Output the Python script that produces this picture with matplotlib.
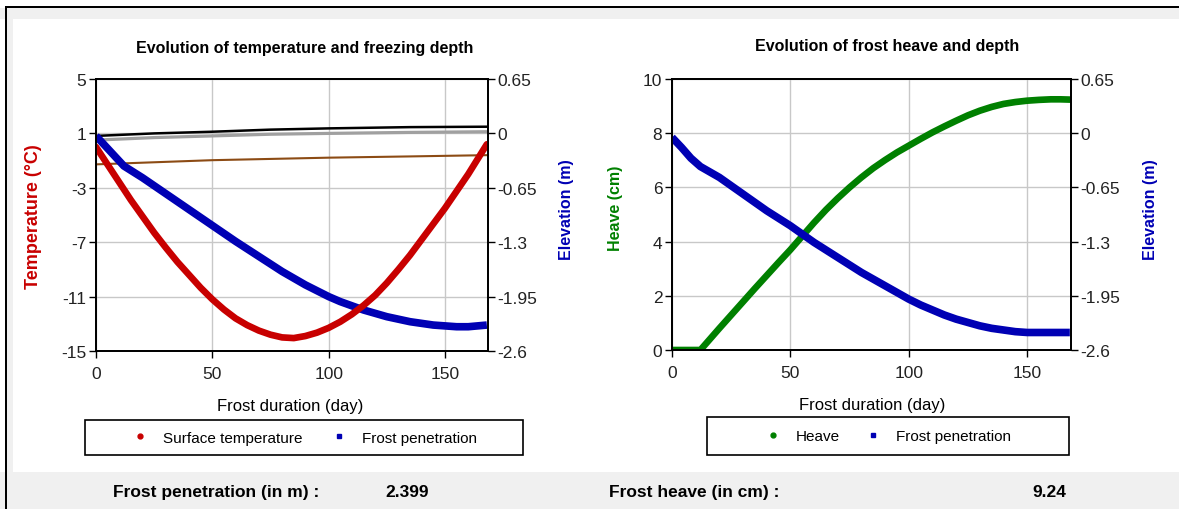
import matplotlib.pyplot as plt
from matplotlib.patches import Rectangle
from matplotlib.lines import Line2D

plt.rcParams['font.family'] = ['Liberation Sans', 'DejaVu Sans']
plt.rcParams['axes.unicode_minus'] = False

# ---- data ----
# left chart: surface temperature (deg C) and frost penetration (elevation m)
temp_days = [0, 5, 10, 15, 20, 25, 30, 35, 40, 45, 50, 55, 60, 65, 70, 75, 80, 85,
             90, 95, 100, 105, 110, 115, 120, 125, 130, 135, 140, 145, 150, 155, 160,
             164, 168]
surface_temp = [0.0, -1.3, -2.6, -3.9, -5.1, -6.3, -7.4, -8.45, -9.4, -10.35, -11.2,
                -11.95, -12.6, -13.1, -13.5, -13.8, -14.0, -14.05, -13.9, -13.65,
                -13.3, -12.85, -12.3, -11.65, -10.9, -10.0, -9.0, -7.95, -6.8, -5.65,
                -4.5, -3.25, -2.0, -0.9, 0.2]

pen_days = [0, 4, 8, 12, 20, 30, 40, 50, 60, 70, 80, 90, 95, 100, 105, 110, 115, 120,
            125, 130, 135, 140, 145, 150, 155, 160, 164, 168]
frost_pen_left = [-0.03, -0.15, -0.27, -0.39, -0.53, -0.72, -0.91, -1.10, -1.29, -1.47,
                  -1.65, -1.81, -1.88, -1.95, -2.01, -2.06, -2.11, -2.15, -2.19, -2.22,
                  -2.25, -2.27, -2.29, -2.30, -2.31, -2.31, -2.30, -2.29]

layer_days = [0, 25, 50, 75, 100, 135, 168]
black_line = [-0.03, 0.00, 0.02, 0.045, 0.06, 0.075, 0.08]
grey_line = [-0.08, -0.05, -0.03, -0.01, 0.00, 0.012, 0.02]
brown_line = [-0.37, -0.345, -0.32, -0.305, -0.29, -0.275, -0.26]

# right chart: heave (cm) and frost penetration (elevation m)
heave_days = [0, 12, 15, 20, 25, 30, 35, 40, 45, 50, 55, 60, 65, 70, 75, 80, 85, 90,
              95, 100, 105, 110, 115, 120, 125, 130, 135, 140, 145, 150, 155, 160,
              164, 168]
heave = [0.0, 0.0, 0.3, 0.8, 1.29, 1.78, 2.27, 2.75, 3.23, 3.7, 4.2, 4.7, 5.17, 5.6,
         6.0, 6.37, 6.71, 7.01, 7.29, 7.54, 7.79, 8.03, 8.25, 8.46, 8.66, 8.83, 8.97,
         9.08, 9.15, 9.20, 9.23, 9.25, 9.25, 9.24]
frost_pen_right = [-0.05, -0.17, -0.30, -0.40, -0.53, -0.73, -0.93, -1.11, -1.31, -1.49,
                   -1.67, -1.83, -1.91, -1.99, -2.06, -2.12, -2.18, -2.23, -2.27, -2.31,
                   -2.34, -2.36, -2.38, -2.39, -2.39, -2.39, -2.39, -2.39]

x_ticks = [0, 50, 100, 150]
temp_ticks = [5, 1, -3, -7, -11, -15]
heave_ticks = [0, 2, 4, 6, 8, 10]
elev_ticks = [0.65, 0, -0.65, -1.3, -1.95, -2.6]
elev_labels = ['0.65', '0', '-0.65', '-1.3', '-1.95', '-2.6']

RED = '#c80000'
BLUE = '#0000b4'
GREEN = '#008000'
BROWN = '#8c4b14'
GRID = '#c8c8c8'
PANEL = '#f0f0f0'

W, H = 1179, 510
fig = plt.figure(figsize=(W / 100, H / 100), dpi=100)


def px_rect(x0, y0, x1, y1, color, fill=True, lw=0, z=-1):
    # rectangle given in screen pixels (origin top-left)
    r = Rectangle((x0 / W, 1 - y1 / H), (x1 - x0) / W, (y1 - y0) / H,
                  transform=fig.transFigure, facecolor=color if fill else 'none',
                  edgecolor='black' if not fill else 'none', linewidth=lw, zorder=z)
    fig.patches.append(r)


# window chrome
px_rect(0, 9, W, 20, PANEL)
px_rect(7, 9, 13, 473, PANEL)
px_rect(0, 473, W, H, PANEL)
px_rect(5, 7, W, 9, 'black')
px_rect(5, 7, 7, H, 'black')


def style_axes(ax_main, ax_elev, yticks, ylim):
    ax_main.set_xlim(0, 168.5)
    ax_main.set_xticks(x_ticks)
    ax_main.set_ylim(*ylim)
    ax_main.set_yticks(yticks)
    ax_elev.set_ylim(-2.6, 0.65)
    ax_elev.set_yticks(elev_ticks)
    ax_elev.set_yticklabels(elev_labels)
    for a in (ax_main, ax_elev):
        a.tick_params(length=5, width=1, labelsize=12.5, pad=2, colors='black',
                      labelcolor='#222222')
        for s in a.spines.values():
            s.set_linewidth(1.3)
    ax_main.tick_params(axis='x', pad=6)
    # grid drawn on the lower axes so curves sit on top of it
    ax_elev.xaxis.set_visible(True)
    ax_elev.tick_params(axis='x', bottom=False, labelbottom=False, top=False)
    ax_elev.grid(True, color=GRID, linewidth=1)
    ax_elev.set_axisbelow(True)


# ---------------- left chart ----------------
axL = fig.add_axes([96 / W, 1 - 352 / H, 392 / W, 272 / H])
axLe = axL.twinx()
axL.set_zorder(axLe.get_zorder() + 1)
axL.patch.set_visible(False)
axLe.patch.set_visible(True)
axLe.patch.set_facecolor('white')

axLe.plot(layer_days, grey_line, color='#a0a0a0', lw=2.3)
axLe.plot(layer_days, black_line, color='black', lw=1.8)
axLe.plot(layer_days, brown_line, color=BROWN, lw=1.5)
axLe.plot(pen_days, frost_pen_left, color=BLUE, lw=5.5, solid_capstyle='butt',
          solid_joinstyle='round')
axL.plot(temp_days, surface_temp, color=RED, lw=4.8, solid_capstyle='round',
         solid_joinstyle='round')
style_axes(axL, axLe, temp_ticks, (-15, 5))

# ---------------- right chart ----------------
axR = fig.add_axes([672 / W, 1 - 351 / H, 399 / W, 271 / H])
axRe = axR.twinx()
axRe.plot(pen_days, frost_pen_right, color=BLUE, lw=5.5, solid_capstyle='butt',
          solid_joinstyle='round')
axR.plot(heave_days, heave, color=GREEN, lw=4.8, solid_capstyle='round',
         solid_joinstyle='round')
axR.set_zorder(axRe.get_zorder() - 1)
axRe.patch.set_visible(False)
axR.patch.set_facecolor('white')
style_axes(axR, axRe, heave_ticks, (0, 10))
# grid for right chart on its main axes (it sits below)
axRe.grid(False)
axR.grid(True, color=GRID, linewidth=1)
axR.set_axisbelow(True)

# titles and axis labels
fig.text(305 / W, 1 - 48 / H, 'Evolution of temperature and freezing depth',
         ha='center', va='center', fontsize=11.5, fontweight='bold')
fig.text(887 / W, 1 - 47 / H, 'Evolution of frost heave and depth',
         ha='center', va='center', fontsize=11.5, fontweight='bold')
fig.text(290 / W, 1 - 407 / H, 'Frost duration (day)', ha='center', va='center',
         fontsize=12)
fig.text(872 / W, 1 - 406 / H, 'Frost duration (day)', ha='center', va='center',
         fontsize=12)
fig.text(33 / W, 1 - 217 / H, 'Temperature (°C)', rotation=90, ha='center',
         va='center', fontsize=13, fontweight='bold', color=RED)
fig.text(567 / W, 1 - 210 / H, 'Elevation (m)', rotation=90, ha='center',
         va='center', fontsize=11.5, fontweight='bold', color=BLUE)
fig.text(615 / W, 1 - 208 / H, 'Heave (cm)', rotation=90, ha='center',
         va='center', fontsize=11.5, fontweight='bold', color=GREEN)
fig.text(1150 / W, 1 - 210 / H, 'Elevation (m)', rotation=90, ha='center',
         va='center', fontsize=11.5, fontweight='bold', color=BLUE)

# legends with their own boxes
px_rect(85, 421, 523, 456, 'none', fill=False, lw=1.2, z=1)
px_rect(707, 418, 1069, 456, 'none', fill=False, lw=1.2, z=1)

red_h = Line2D([], [], color=RED, marker='o', markersize=3.5, linestyle='none')
blue_h = Line2D([], [], color=BLUE, marker='s', markersize=3.5, linestyle='none')
green_h = Line2D([], [], color=GREEN, marker='o', markersize=3.5, linestyle='none')

fig.legend([red_h, blue_h], ['Surface temperature', 'Frost penetration'],
           loc='center', bbox_to_anchor=(305 / W, 1 - 438.5 / H), ncol=2,
           frameon=False, fontsize=11, handlelength=1, handletextpad=1.0,
           columnspacing=1.9)
fig.legend([green_h, blue_h], ['Heave', 'Frost penetration'],
           loc='center', bbox_to_anchor=(888 / W, 1 - 437 / H), ncol=2,
           frameon=False, fontsize=11, handlelength=1, handletextpad=1.0,
           columnspacing=1.7)

# summary strip
fig.text(113 / W, 1 - 493 / H, 'Frost penetration (in m) :', ha='left', va='center',
         fontsize=12.5, fontweight='bold')
fig.text(385 / W, 1 - 493 / H, '2.399', ha='left', va='center',
         fontsize=12.5, fontweight='bold')
fig.text(609 / W, 1 - 493 / H, 'Frost heave (in cm) :', ha='left', va='center',
         fontsize=12.5, fontweight='bold')
fig.text(1066 / W, 1 - 493 / H, '9.24', ha='right', va='center',
         fontsize=12.5, fontweight='bold')

fig.savefig('out.png', dpi=100)
